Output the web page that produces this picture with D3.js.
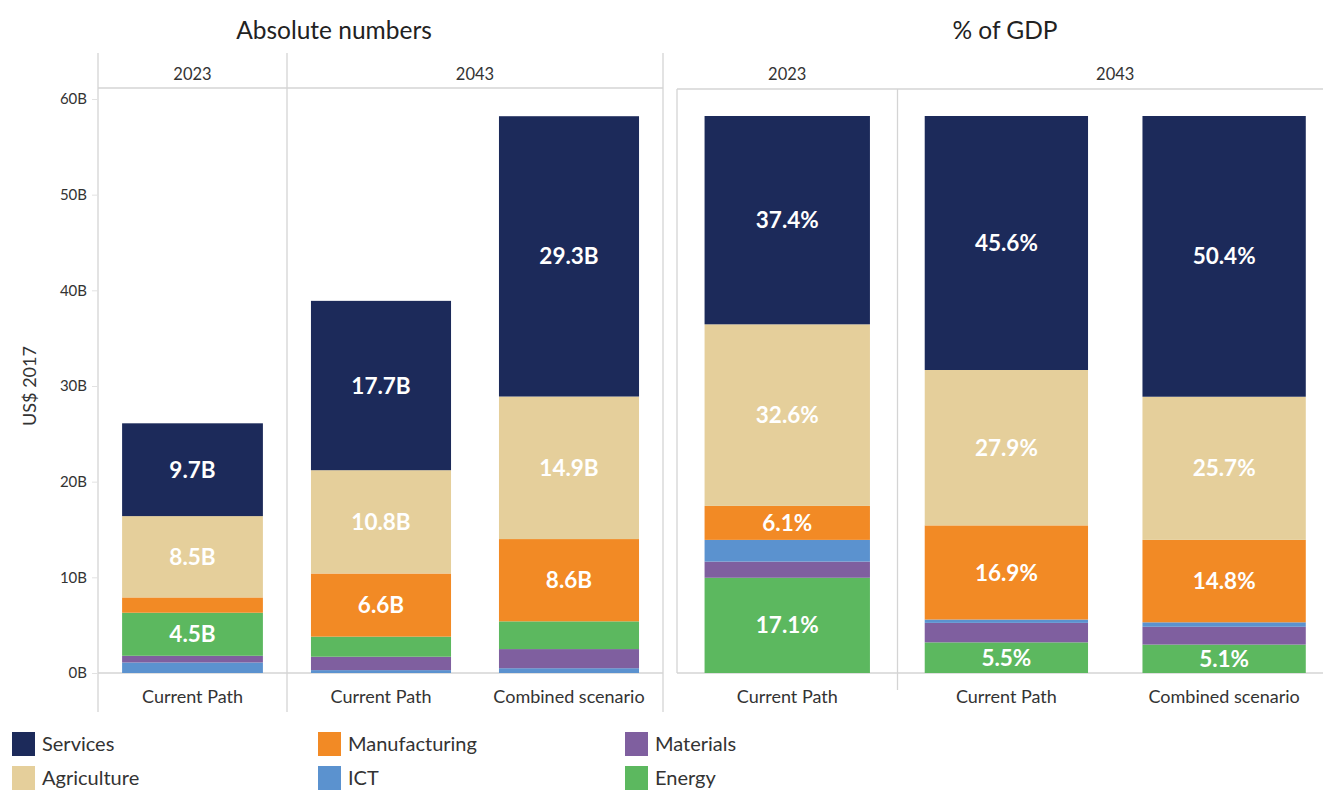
<!DOCTYPE html>
<html>
<head>
<meta charset="utf-8">
<script src="https://cdn.jsdelivr.net/npm/d3@7"></script>
<style>
  body { margin: 0; background: #fff; }
  svg { display: block; }
  text { font-family: Lato, "Open Sans", sans-serif; }
</style>
</head>
<body>
<svg id="chart" width="1323" height="792"></svg>
<script>
// ---- data -------------------------------------------------------------
const sectors   = ["Services", "Agriculture", "Manufacturing", "ICT", "Materials", "Energy"];
const years     = ["2023", "2043", "2043"];
const scenarios = ["Current Path", "Current Path", "Combined scenario"];
const yTicksAbs = [0, 10, 20, 30, 40, 50, 60];

// Absolute values, US$ billions (2017 dollars)
const servicesAbs      = [9.7, 17.7, 29.3];
const agricultureAbs   = [8.5, 10.8, 14.9];
const manufacturingAbs = [1.6, 6.6, 8.6];
const ictAbs           = [1.1, 0.3, 0.5];
const materialsAbs     = [0.7, 1.4, 2.0];
const energyAbs        = [4.5, 2.1, 2.9];

// Share of GDP, percent
const servicesPct      = [37.4, 45.6, 50.4];
const agriculturePct   = [32.6, 27.9, 25.7];
const manufacturingPct = [6.1, 16.9, 14.8];
const ictPct           = [3.9, 0.6, 0.8];
const materialsPct     = [2.9, 3.5, 3.2];
const energyPct        = [17.1, 5.5, 5.1];

const colors = {
  Services: "#1c2a5a",
  Agriculture: "#e5cf9b",
  Manufacturing: "#f28a25",
  ICT: "#5b92cf",
  Materials: "#7f5f9f",
  Energy: "#5cb85f"
};

// ---- helpers ----------------------------------------------------------
const absBySector = { Services: servicesAbs, Agriculture: agricultureAbs, Manufacturing: manufacturingAbs,
                      ICT: ictAbs, Materials: materialsAbs, Energy: energyAbs };
const pctBySector = { Services: servicesPct, Agriculture: agriculturePct, Manufacturing: manufacturingPct,
                      ICT: ictPct, Materials: materialsPct, Energy: energyPct };

function rows(bySector) {
  return years.map((y, i) => {
    const r = { idx: String(i), year: y, scenario: scenarios[i] };
    sectors.forEach(s => r[s] = bySector[s][i]);
    return r;
  });
}

const svg = d3.select("#chart");
const gridColor = "#d4d4d4";
const textColor = "#333";

const baseY = 673;
const headerTop = 53;
const headerLine = 88;

function line(x1, y1, x2, y2, color = gridColor, w = 1.3) {
  svg.append("line").attr("x1", x1).attr("y1", y1).attr("x2", x2).attr("y2", y2)
    .attr("stroke", color).attr("stroke-width", w);
}

// Draws one panel of stacked bars split into year facets
function drawPanel(opts) {
  const data = rows(opts.bySector);
  const stack = d3.stack().keys(opts.order)(data);
  const y = opts.y;

  opts.facets.forEach(f => {
    const x = d3.scaleBand().domain(f.cols.map(String)).range([f.x0, f.x1])
      .paddingInner(opts.pad).paddingOuter(opts.pad / 2);

    // facet header
    svg.append("text").attr("x", (f.x0 + f.x1) / 2).attr("y", 80)
      .attr("text-anchor", "middle").attr("font-size", 16.5).attr("fill", textColor)
      .text(f.year);

    stack.forEach(layer => {
      const key = layer.key;
      layer.filter(d => f.cols.includes(+d.data.idx)).forEach(d => {
        svg.append("rect")
          .attr("x", x(d.data.idx)).attr("width", x.bandwidth())
          .attr("y", y(d[1])).attr("height", y(d[0]) - y(d[1]))
          .attr("fill", colors[key]);
        const v = d.data[key];
        if (v >= opts.minLabel) {
          svg.append("text")
            .attr("x", x(d.data.idx) + x.bandwidth() / 2)
            .attr("y", (y(d[0]) + y(d[1])) / 2)
            .attr("dy", "0.36em")
            .attr("text-anchor", "middle").attr("font-size", 22.5).attr("font-weight", 700)
            .attr("fill", "#fff").text(opts.fmt(v));
        }
      });
    });

    // category labels
    f.cols.forEach(c => {
      svg.append("text").attr("x", x(String(c)) + x.bandwidth() / 2).attr("y", 703)
        .attr("text-anchor", "middle").attr("font-size", 18).attr("fill", textColor)
        .text(scenarios[c]);
    });
  });
}

// ---- left panel: absolute numbers --------------------------------------
const yAbs = d3.scaleLinear().domain([0, 60]).range([baseY, 99]);
const leftFacets = [
  { year: "2023", cols: [0], x0: 98, x1: 287 },
  { year: "2043", cols: [1, 2], x0: 287, x1: 663 }
];

// frame lines
line(98, headerTop, 98, 712);
line(287, headerTop, 287, 712);
line(663, headerTop, 663, 712);
line(98, headerLine, 663, headerLine);
line(98, baseY, 663, baseY);

const yAxis = d3.axisLeft(yAbs).tickValues(yTicksAbs).tickFormat(d => d + "B").tickSize(6).tickPadding(5);
const ax = svg.append("g").attr("transform", "translate(98,0)").call(yAxis);
ax.select(".domain").remove();
ax.selectAll(".tick line").attr("stroke", "#e2e2e2");
ax.selectAll(".tick text").attr("font-size", 15).attr("fill", textColor)
  .attr("font-family", "Lato, 'Open Sans', sans-serif");

svg.append("text").attr("transform", "translate(36,386) rotate(-90)")
  .attr("text-anchor", "middle").attr("font-size", 18).attr("fill", textColor)
  .text("US$ 2017");

svg.append("text").attr("x", 334).attr("y", 39).attr("text-anchor", "middle")
  .attr("font-size", 24.5).attr("fill", "#222").text("Absolute numbers");

drawPanel({
  bySector: absBySector,
  order: ["ICT", "Materials", "Energy", "Manufacturing", "Agriculture", "Services"],
  y: yAbs, facets: leftFacets, pad: 0.255, minLabel: 4,
  fmt: v => v.toFixed(1) + "B"
});

// ---- right panel: % of GDP ---------------------------------------------
const yPct = d3.scaleLinear().domain([0, 100]).range([baseY, 116]);
const rightFacets = [
  { year: "2023", cols: [0], x0: 677, x1: 897.5 },
  { year: "2043", cols: [1, 2], x0: 897.5, x1: 1333 }
];

line(677, 89, 1323, 89);
line(677, baseY, 1323, baseY);
line(677, 89, 677, baseY);
line(897.5, 89, 897.5, 690);

svg.append("text").attr("x", 1005).attr("y", 39).attr("text-anchor", "middle")
  .attr("font-size", 24.5).attr("fill", "#222").text("% of GDP");

drawPanel({
  bySector: pctBySector,
  order: ["Energy", "Materials", "ICT", "Manufacturing", "Agriculture", "Services"],
  y: yPct, facets: rightFacets, pad: 0.25, minLabel: 5,
  fmt: v => v.toFixed(1) + "%"
});

// ---- legend -----------------------------------------------------------
const legendCols = [12, 318, 625];
const legendRows = [744, 778];
const legendItems = [
  ["Services", 0, 0], ["Agriculture", 0, 1],
  ["Manufacturing", 1, 0], ["ICT", 1, 1],
  ["Materials", 2, 0], ["Energy", 2, 1]
];
legendItems.forEach(([name, c, r]) => {
  const lx = legendCols[c], ly = legendRows[r];
  svg.append("rect").attr("x", lx).attr("y", ly - 12).attr("width", 23).attr("height", 24)
    .attr("fill", colors[name]);
  svg.append("text").attr("x", lx + 30).attr("y", ly).attr("dy", "0.36em")
    .attr("font-size", 20).attr("fill", textColor).text(name);
});
</script>
</body>
</html>
